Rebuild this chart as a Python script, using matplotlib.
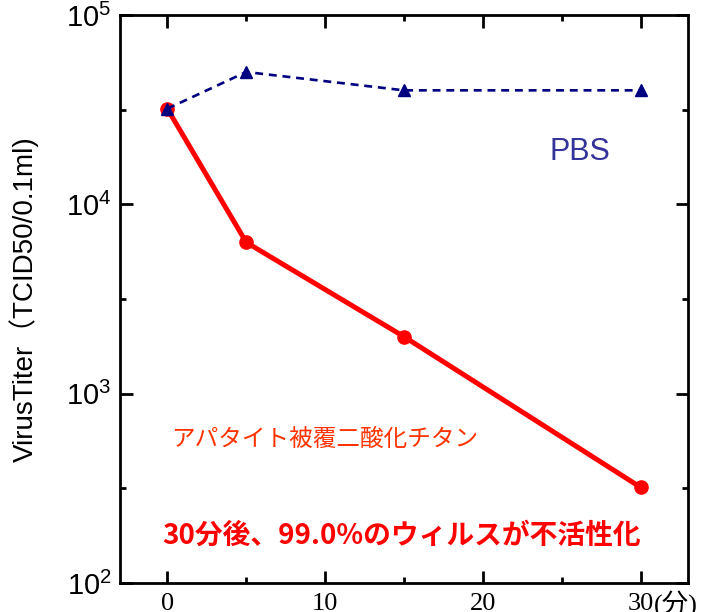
import matplotlib
matplotlib.use("Agg")
import matplotlib.pyplot as plt
from matplotlib.ticker import FixedLocator, FixedFormatter, NullFormatter

# Sampling times (minutes)
times = [0, 5, 15, 30]
# Virus titer, TCID50/0.1ml
titer_apatite_tio2 = [32000, 6300, 2000, 320]
titer_pbs = [32000, 50000, 40000, 40000]

xtick_labels = ["0", "10", "20", "30"]
ytick_exponents = [2, 3, 4, 5]

sans = ["Liberation Sans", "Noto Sans CJK JP"]
serif = ["Liberation Serif", "Noto Sans CJK JP"]
cjk = ["Noto Sans CJK JP", "DejaVu Sans"]

fig = plt.figure(figsize=(7.04, 6.12), dpi=100)
ax = fig.add_axes([120 / 704, 1 - 583 / 612, 568 / 704, 568 / 612])

ax.plot(times, titer_pbs, color="#000080", linestyle=(0, (3, 2.2)), linewidth=1.9,
        marker="^", markersize=9, zorder=3)
ax.plot(times, titer_apatite_tio2, color="#ff0000", linewidth=3.6,
        marker="o", markersize=9.5, zorder=2)

ax.set_yscale("log")
ax.set_xlim(-3, 33)
ax.set_ylim(1e2, 1e5)

# x ticks
ax.xaxis.set_major_locator(FixedLocator([0, 10, 20, 30]))
ax.xaxis.set_minor_locator(FixedLocator([5, 15, 25]))
ax.xaxis.set_major_formatter(FixedFormatter(xtick_labels))
# y ticks: decades and half decades
ax.yaxis.set_major_locator(FixedLocator([10.0 ** e for e in ytick_exponents]))
ax.yaxis.set_minor_locator(FixedLocator([10.0 ** (e + 0.5) for e in ytick_exponents[:-1]]))
ax.yaxis.set_major_formatter(FixedFormatter([r"$\mathregular{10^{%d}}$" % e for e in ytick_exponents]))
ax.yaxis.set_minor_formatter(NullFormatter())

ax.tick_params(which="both", direction="in", top=True, right=True, width=2.0)
ax.tick_params(which="major", length=9)
ax.tick_params(which="minor", length=4.5)
ax.tick_params(axis="x", which="major", pad=7)
ax.tick_params(axis="y", which="major", pad=6)
for lab in ax.get_xticklabels():
    lab.set_fontfamily(serif)
    lab.set_fontsize(19)
for lab in ax.get_yticklabels():
    lab.set_fontfamily(sans)
    lab.set_fontsize(21)

for sp in ax.spines.values():
    sp.set_linewidth(2.0)

# unit after the last x tick label
ax.annotate("(分)", xy=(30, 0), xycoords=ax.get_xaxis_transform(),
            xytext=(13, -7), textcoords="offset pixels", ha="left", va="top",
            fontsize=19, family=serif)

ax.set_ylabel("VirusTiter（TCID50/0.1ml)", fontsize=20, family=sans)
ax.yaxis.set_label_coords(-0.143, 0.5)

fig.text(580 / 704, 1 - 152 / 612, "PBS", color="#333399", fontsize=22,
         family=sans, ha="center", va="center")
fig.text(325 / 704, 1 - 439 / 612, "アパタイト被覆二酸化チタン", color="#ff3300",
         fontsize=17, family=cjk, ha="center", va="center")
fig.text(402 / 704, 1 - 536 / 612, "30分後、99.0%のウィルスが不活性化", color="#ff0000",
         fontsize=20, fontweight="bold", family=cjk, ha="center", va="center")

fig.savefig("out.png", dpi=100)
